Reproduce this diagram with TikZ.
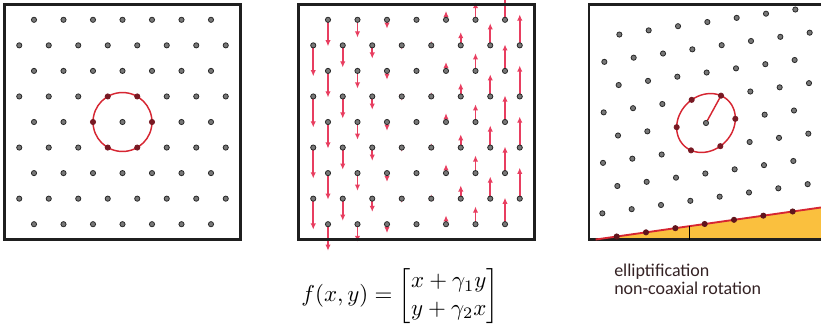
\documentclass[tikz,border=0pt]{standalone}
\usepackage{amsmath}
\usepackage{fontspec}
\newfontfamily\labelfont{Carlito}
\usetikzlibrary{arrows.meta}
\definecolor{dotfill}{RGB}{120,120,120}
\definecolor{dotedge}{RGB}{40,40,40}
\definecolor{circred}{RGB}{214,38,50}
\definecolor{arrred}{RGB}{232,62,96}
\definecolor{fillorange}{RGB}{250,192,62}
\definecolor{txtcol}{RGB}{52,34,36}
\definecolor{nbred}{RGB}{120,25,35}
\pgfdeclarelayer{arrowlayer}
\pgfsetlayers{arrowlayer,main}
\begin{document}
\begin{tikzpicture}[x=0.75pt,y=-0.75pt,
  panelbox/.style={draw=black!88, line width=1.6pt},
  latdot/.style={circle, draw=dotedge, fill=dotfill, line width=0.6pt, inner sep=0pt, minimum size=3.9pt},
  nbdot/.style={latdot, draw=nbred, fill=nbred},
  linedot/.style={latdot, draw=nbred!80!black, fill=nbred!80!black},
  shiftarrow/.style={color=arrred, line width=1.3pt, -{Latex[length=4.6pt,width=4pt]}},
  redring/.style={color=circred, line width=1.1pt},
  redline/.style={color=circred, line width=1.4pt},
  labeltext/.style={anchor=base west, inner sep=0pt, text=txtcol, font=\labelfont\fontsize{13.5}{16}\selectfont}
]
\useasboundingbox (0,0) rectangle (821,333);
\clip (0,0) rectangle (821,333);

% ---------- panel 3 background fill and boxes ----------
\coordinate (L0) at (595.6,239.5);
\coordinate (L1) at (824.9,206.9);
\coordinate (BR) at (826,239.5);
\fill[fillorange] (L0) -- (L1) -- (BR) -- cycle;

\draw[panelbox] (4.5,4.5) rectangle (240.5,239.5);
\draw[panelbox] (298.5,4.5) rectangle (534.5,239.5);
\draw[panelbox] (589,4.5) rectangle (826,239.5);

\draw[redline] (L0) -- (L1);
\coordinate (T0) at (689,226.2);
\coordinate (T1) at (689,239.5);
\draw[black, line width=0.7pt] (T0) -- (T1);

% ---------- lattices ----------
\foreach \j in {-4,...,4}{
  \pgfmathtruncatemacro\jodd{mod(\j+4,2)}
  \ifnum\jodd=0 \def\mlist{-6,-4,...,6}\else\def\mlist{-7,-5,...,7}\fi
  \foreach \m in \mlist{
    \pgfmathtruncatemacro\jj{\j+4}
    \pgfmathtruncatemacro\mm{\m+7}
    \pgfmathsetmacro\px{\m*14.75}
    \pgfmathsetmacro\py{-\j*25.55}
    \pgfmathtruncatemacro\isnb{((\j==0) && (abs(\m)==2)) || ((abs(\j)==1) && (abs(\m)==1))}
    \pgfmathsetmacro\qx{706+(\m-\j)/2*29.33+\j*15}
    \pgfmathsetmacro\qy{123-(\m-\j)/2*4.17-\j*27.33}
    % panel 1
    \ifnum\isnb=1
      \node[nbdot] (a\jj x\mm) at ({122.5+\px},{122+\py}) {};
    \else
      \node[latdot] (a\jj x\mm) at ({122.5+\px},{122+\py}) {};
    \fi
    % panel 2
    \node[latdot] (b\jj x\mm) at ({416.5+\px},{122+\py}) {};
    \ifnum\m=0 \else
      \coordinate (e\jj x\mm) at ({416.5+\px},{122+\py-0.3*\px});
      \begin{pgfonlayer}{arrowlayer}
        \draw[shiftarrow] (b\jj x\mm.center) -- (e\jj x\mm);
      \end{pgfonlayer}
    \fi
    % panel 3
    \ifnum\isnb=1
      \node[nbdot] (c\jj x\mm) at (\qx,\qy) {};
    \else
      \ifnum\j=-4
        \node[linedot] (c\jj x\mm) at (\qx,\qy) {};
      \else
        \node[latdot] (c\jj x\mm) at (\qx,\qy) {};
      \fi
    \fi
  }
}

% ---------- red circle (panel 1) ----------
\begin{pgfonlayer}{arrowlayer}
\draw[redring] (a4x7.center) circle[radius=22.1pt];
% ---------- red ellipse and radius (panel 3) ----------
\draw[redring] plot[domain=0:360, samples=73, smooth cycle, variable=\t]
  ({706+29.33*cos(\t)+0.387*sin(\t)},{123-4.17*cos(\t)-29.15*sin(\t)});
\draw[redring] (c4x7.center) -- (c5x8.center);
\end{pgfonlayer}

% ---------- texts ----------
\node[scale=1.72] (formula) at (400,296)
  {$f(x,y)=\begin{bmatrix}x+\gamma_1 y\\ y+\gamma_2 x\end{bmatrix}$};
\node[labeltext] (lblA) at (614,276) {elliptification};
\node[labeltext] (lblB) at (614,294) {non-coaxial rotation};
\end{tikzpicture}
\end{document}
